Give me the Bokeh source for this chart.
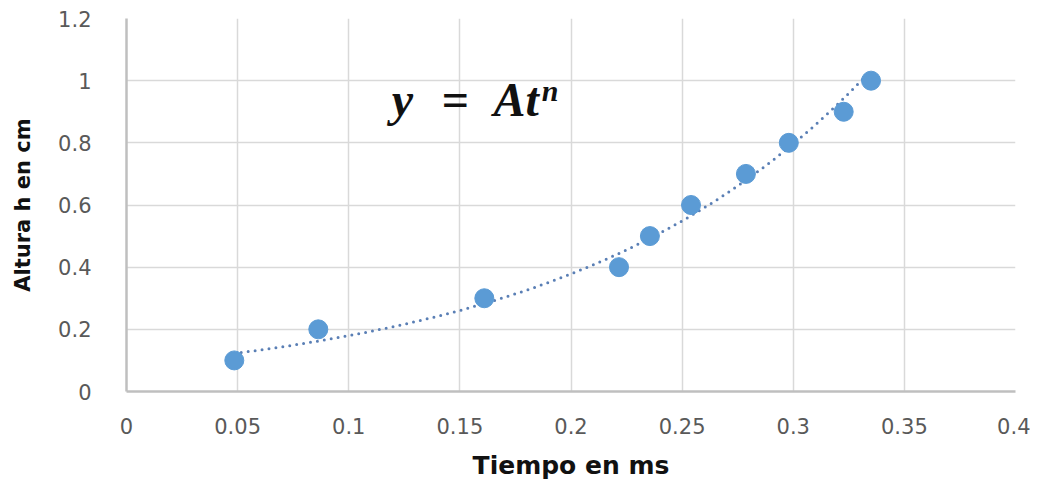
import numpy as np
from bokeh.plotting import figure
from bokeh.models import Range1d, FixedTicker, CustomJSTickFormatter
from bokeh.core.properties import value
from bokeh.embed import file_html
from bokeh.resources import INLINE

# Data
tiempo = [0.0485, 0.0863, 0.161, 0.2216, 0.2355, 0.254, 0.2787, 0.298, 0.3227, 0.335]
altura = [0.1, 0.2, 0.3, 0.4, 0.5, 0.6, 0.7, 0.8, 0.9, 1.0]
x_ticks = [0, 0.05, 0.1, 0.15, 0.2, 0.25, 0.3, 0.35, 0.4]
y_ticks = [0, 0.2, 0.4, 0.6, 0.8, 1.0, 1.2]
x_title = "Tiempo en ms"
y_title = "Altura h en cm"

# Exponential trendline (least squares on log(y)), as a spreadsheet would draw it
b, ln_a = np.polyfit(np.array(tiempo), np.log(np.array(altura)), 1)
tx = np.linspace(min(tiempo), max(tiempo), 120)
ty = np.exp(ln_a) * np.exp(b * tx)

p = figure(frame_width=889, frame_height=373, output_backend="svg", toolbar_location=None,
           x_range=Range1d(0, 0.4), y_range=Range1d(0, 1.2),
           min_border_left=126, min_border_right=15, min_border_top=18, min_border_bottom=90)
p.outline_line_color = None
p.background_fill_color = "white"
p.border_fill_color = "white"

for ax in (p.xaxis[0], p.yaxis[0]):
    ax.major_tick_line_color = None
    ax.minor_tick_line_color = None
    ax.axis_line_color = "#bfbfbf"
    ax.axis_line_width = 2.5
    ax.major_label_text_color = "#595959"
    ax.major_label_text_font = "DejaVu Sans"
    ax.major_label_text_font_size = "21px"
    ax.axis_label_text_font = "DejaVu Sans"
    ax.axis_label_text_font_style = "bold"
    ax.axis_label_text_color = "#111111"

p.xaxis.ticker = FixedTicker(ticks=x_ticks)
p.yaxis.ticker = FixedTicker(ticks=y_ticks)
fmt = CustomJSTickFormatter(code="return String(Math.round(tick*100)/100);")
p.xaxis.formatter = fmt
p.yaxis.formatter = fmt
p.xaxis.major_label_standoff = 20
p.yaxis.major_label_standoff = 29
p.xaxis.axis_label = x_title
p.yaxis.axis_label = y_title
p.xaxis.axis_label_text_font_size = "25px"
p.yaxis.axis_label_text_font_size = "21px"
p.xaxis.axis_label_standoff = 14
p.yaxis.axis_label_standoff = 20

p.xgrid.grid_line_color = "#d9d9d9"
p.ygrid.grid_line_color = "#d9d9d9"
p.xgrid.grid_line_width = 1.5
p.ygrid.grid_line_width = 1.5

p.line(tx, ty, line_color="#5a7fb5", line_width=3, line_dash="0 7", line_cap="round")
p.scatter(tiempo, altura, size=19, fill_color="#5b9bd5", line_color="#5b9bd5")

eq_font = value("Liberation Serif")
p.text([0.1193], [0.939], text=["y"], text_font=eq_font, text_font_style="bold italic",
       text_font_size="48px", text_color="#111111", text_baseline="alphabetic")
p.text([0.1480], [0.939], text=["="], text_font=eq_font, text_font_style="bold",
       text_font_size="48px", text_color="#111111", text_baseline="alphabetic", text_align="center")
p.text([0.1651], [0.939], text=["At"], text_font=eq_font, text_font_style="bold italic",
       text_font_size="48px", text_color="#111111", text_baseline="alphabetic")
p.text([0.1868], [0.968], text=["n"], text_font=eq_font, text_font_style="bold italic",
       text_font_size="30px", text_color="#111111", text_baseline="alphabetic")

open("out.html", "w").write(file_html(p, INLINE))
